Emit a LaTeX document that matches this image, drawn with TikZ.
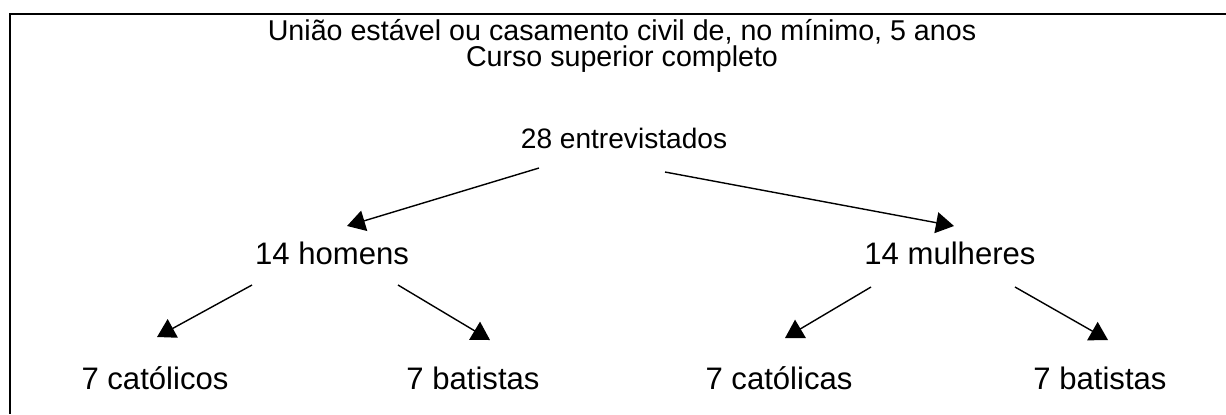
\documentclass[tikz,border=0pt]{standalone}
\usepackage{fontspec}
\setmainfont{Liberation Sans}
\usetikzlibrary{arrows.meta}
\begin{document}
\begin{tikzpicture}[x=0.02cm,y=-0.02cm,
    grupo/.style={font=\fontsize{17.7}{20}\selectfont, inner sep=0pt, anchor=base},
    seta/.style={line width=0.8pt, -{Triangle[length=0.36cm,width=0.42cm]}}]
                \useasboundingbox (0,0) rectangle (1226,414);
                \draw[line width=1pt] (1226,14) -- (10,14) -- (10,414);
                \node[align=center, font=\fontsize{16.3}{13.6}\selectfont, inner sep=0pt] (criterio) at (622,46) {União estável ou casamento civil de, no mínimo, 5 anos\\Curso superior completo};
                \node[grupo, font=\fontsize{16}{20}\selectfont] (total) at (624,148) {28 entrevistados};
                \node[grupo] (homens) at (332,264) {14 homens};
                \node[grupo] (mulheres) at (950,264) {14 mulheres};
                \node[grupo] (hcat) at (155,389) {7 católicos};
                \node[grupo] (hbat) at (473,389) {7 batistas};
                \node[grupo] (mcat) at (779,389) {7 católicas};
                \node[grupo] (mbat) at (1100,389) {7 batistas};
                \draw[seta] ([shift={(-85,20)}]total.base) -- ([shift={(15,-38)}]homens.base);
                \draw[seta] ([shift={(41,24)}]total.base) -- ([shift={(4,-38)}]mulheres.base);
                \draw[seta] ([shift={(-80,21)}]homens.base) -- ([shift={(2,-52)}]hcat.base);
                \draw[seta] ([shift={(66,21)}]homens.base) -- ([shift={(17,-49)}]hbat.base);
                \draw[seta] ([shift={(-79,23)}]mulheres.base) -- ([shift={(6,-51)}]mcat.base);
                \draw[seta] ([shift={(65,23)}]mulheres.base) -- ([shift={(8,-49)}]mbat.base);
            \end{tikzpicture}
\end{document}
